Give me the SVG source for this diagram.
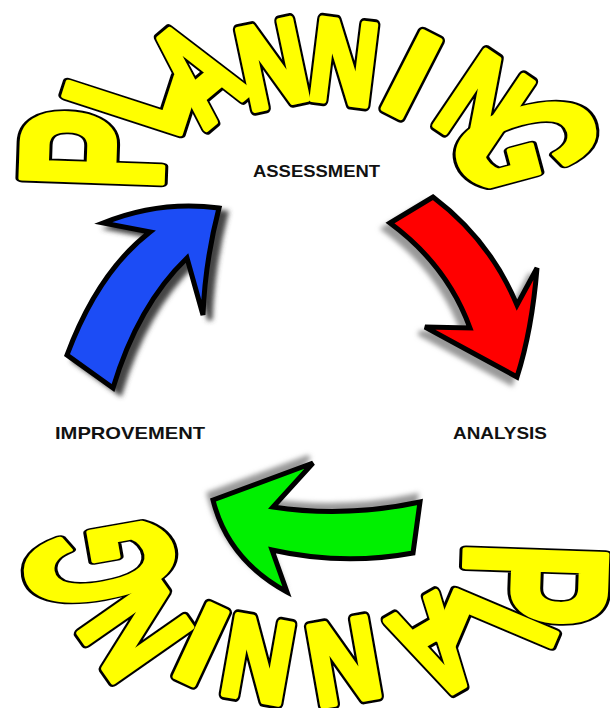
<svg xmlns="http://www.w3.org/2000/svg" xmlns:xlink="http://www.w3.org/1999/xlink" width="610" height="708" viewBox="0 0 610 708">
<style>
.w{font-family:"Liberation Sans",Arial,sans-serif;font-weight:bold;font-size:100px;text-anchor:middle;vector-effect:non-scaling-stroke}
.ol{fill:#000;stroke:#000;stroke-width:11;stroke-linejoin:round}
.fl{fill:#ffff00;stroke:#ffff00;stroke-width:6;stroke-linejoin:round}
.lbl{font-family:"Liberation Sans",Arial,sans-serif;font-weight:bold;font-size:17px;fill:#111}
.arrow{stroke:#000;stroke-width:5;stroke-linejoin:miter}
.shadow{stroke-width:5;stroke-linejoin:miter}
</style>
<defs>
<filter id="blur" x="-20%" y="-20%" width="140%" height="140%"><feGaussianBlur stdDeviation="2.5"/></filter>
<path id="pBlue" d="M67,355 Q98,272 150,232 L103,223 Q160,200 219,208 Q205,262 203,315 L187,258 Q138,305 113,388 Z"/>
<path id="pRed" d="M390,223 L433,197 Q490,240 517,305 L537,268 Q532,330 517,377 L425,327 L470,328 Q447,265 390,223 Z"/>
<path id="pGreen" d="M213,500 L313,463 L273,507 Q345,518 420,502 L413,553 Q343,566 272,550 L287,592 Q228,560 213,500 Z"/>
<g id="lettersTop">
<text class="w" transform="translate(162 152) rotate(-88) scale(1.18 2.02)">P</text>
<text class="w" transform="translate(187 110) rotate(-72) scale(1.05 1.75)">L</text>
<text class="w" transform="translate(228 110) rotate(-40) scale(0.88 1.43)">A</text>
<text class="w" transform="translate(281 104) rotate(-12) scale(0.92 1.18)">N</text>
<text class="w" transform="translate(339 102) rotate(7) scale(0.92 1.17)">N</text>
<text class="w" transform="translate(392 113) rotate(27) scale(1.3 1.25)">I</text>
<text class="w" transform="translate(459 141) rotate(34) scale(0.98 1.3)">N</text>
<text class="w" transform="translate(462 160) rotate(75) scale(1.0 1.92)">G</text>
</g>
<g id="lettersBottom">
<text class="w" transform="translate(465 582) rotate(92) scale(1.22 2.03)">P</text>
<text class="w" transform="translate(447 613) rotate(113) scale(1.03 1.57)">L</text>
<text class="w" transform="translate(411 607) rotate(150) scale(0.88 1.37)">A</text>
<text class="w" transform="translate(337 622) rotate(170) scale(0.97 1.16)">N</text>
<text class="w" transform="translate(265 620) rotate(190) scale(0.95 1.16)">N</text>
<text class="w" transform="translate(218 608) rotate(205) scale(1.3 1.16)">I</text>
<text class="w" transform="translate(174 603) rotate(235) scale(1.02 1.37)">N</text>
<text class="w" transform="translate(169 551) rotate(260) scale(1.0 2.05)">G</text>
</g>
</defs>
<rect width="610" height="708" fill="#fff"/>

<g id="connectors">
<g id="arrow-blue">
<use xlink:href="#pBlue" class="shadow" fill="#444" stroke="#444" transform="translate(7,5)" filter="url(#blur)"/>
<use xlink:href="#pBlue" class="arrow" fill="#1c4cf5"/>
</g>
<g id="arrow-red">
<use xlink:href="#pRed" class="shadow" fill="#999" stroke="#999" transform="translate(-6,6)" filter="url(#blur)"/>
<use xlink:href="#pRed" class="arrow" fill="#ff0000"/>
</g>
<g id="arrow-green">
<use xlink:href="#pGreen" class="shadow" fill="#999" stroke="#999" transform="translate(-4,-6)" filter="url(#blur)"/>
<use xlink:href="#pGreen" class="arrow" fill="#00f000"/>
</g>
</g>

<g id="planning-top">
<use xlink:href="#lettersTop" class="ol"/>
<use xlink:href="#lettersTop" class="fl"/>
</g>

<g id="planning-bottom">
<use xlink:href="#lettersBottom" class="ol"/>
<use xlink:href="#lettersBottom" class="fl"/>
</g>

<g id="node-assessment"><text class="lbl" x="253" y="177" textLength="127" lengthAdjust="spacingAndGlyphs">ASSESSMENT</text></g>
<g id="node-analysis"><text class="lbl" x="453" y="439" textLength="94" lengthAdjust="spacingAndGlyphs">ANALYSIS</text></g>
<g id="node-improvement"><text class="lbl" x="55" y="439" textLength="150" lengthAdjust="spacingAndGlyphs">IMPROVEMENT</text></g>
</svg>
